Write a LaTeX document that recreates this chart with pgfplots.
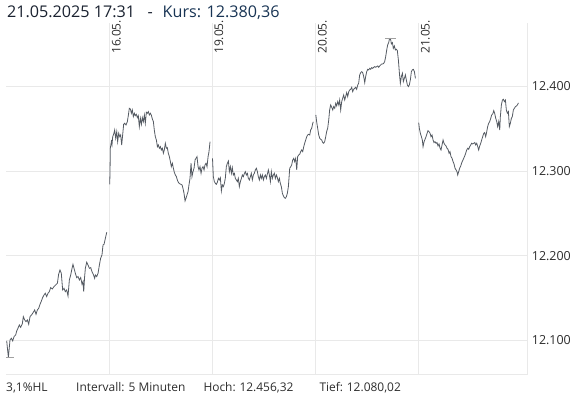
\documentclass[border=0pt]{standalone}
\usepackage{pgfplots}
\pgfplotsset{compat=1.18}
\usepackage{fontspec}
\setmainfont{Open Sans}
\definecolor{gridc}{RGB}{233,233,233}
\definecolor{linec}{RGB}{84,90,98}
\definecolor{markc}{RGB}{160,160,160}
\definecolor{txt}{RGB}{45,45,45}
\definecolor{ttl}{RGB}{26,34,48}
\definecolor{kurs}{RGB}{24,52,84}
\begin{document}
\begin{tikzpicture}
\useasboundingbox (0,0) rectangle (586bp,394bp);
\begin{axis}[
  at={(6.3bp,20bp)}, anchor=south west,
  scale only axis, width=521.4bp, height=351bp,
  xmin=0, xmax=5.052, ymin=12060.3, ymax=12474.7,
  axis x line*=bottom, axis y line*=right,
  axis line style={draw=gridc, line width=0.8bp, -},
  xtick={1.002,1.996,2.998,3.996}, xticklabels={},
  ytick={12100,12200,12300,12400},
  yticklabels={12.100,12.200,12.300,12.400},
  scaled y ticks=false, scaled x ticks=false,
  major tick length=0pt,
  grid=major, grid style={draw=gridc, line width=0.8bp},
  yticklabel style={font=\fontsize{12.5}{14}\selectfont, text=txt, inner sep=0pt, anchor=west, xshift=4bp},
  clip=false,
]
% 15.05.
\addplot[linec, line width=0.8bp] coordinates {
(0.004,12099.3) (0.020,12080.0) (0.036,12100.5) (0.049,12102.5) (0.062,12099.3) (0.075,12104.4) (0.091,12106.4) (0.101,12111.1) (0.113,12114.3) (0.126,12118.2) (0.139,12115.4) (0.155,12119.4) (0.165,12128.0) (0.178,12124.1) (0.191,12122.1) (0.204,12124.1) (0.217,12119.0) (0.230,12128.0) (0.249,12130.8) (0.262,12133.2) (0.275,12135.9) (0.288,12130.8) (0.301,12135.9) (0.314,12137.9) (0.327,12142.6) (0.340,12146.5) (0.352,12150.5) (0.365,12153.6) (0.378,12155.6) (0.391,12151.7) (0.404,12155.6) (0.417,12157.5) (0.430,12162.3) (0.446,12160.7) (0.462,12163.5) (0.478,12165.4) (0.495,12167.4) (0.507,12178.0) (0.520,12183.1) (0.533,12179.2) (0.546,12159.5) (0.559,12161.5) (0.572,12157.5) (0.585,12159.5) (0.598,12152.4) (0.611,12171.3) (0.624,12177.2) (0.637,12185.1) (0.646,12189.8) (0.656,12185.1) (0.669,12179.2) (0.682,12174.1) (0.695,12175.3) (0.708,12171.3) (0.721,12174.1) (0.734,12166.2) (0.743,12169.4) (0.750,12157.5) (0.759,12175.3) (0.766,12185.1) (0.779,12192.2) (0.792,12189.0) (0.805,12185.1) (0.818,12185.9) (0.830,12181.2) (0.843,12178.0) (0.856,12173.3) (0.863,12177.2) (0.876,12175.3) (0.889,12179.2) (0.902,12189.0) (0.914,12196.9) (0.927,12200.8) (0.937,12212.6) (0.947,12213.4) (0.960,12220.5) (0.973,12227.6)
};
% 16.05.
\addplot[linec, line width=0.8bp] coordinates {
(1.002,12284.3) (1.005,12299.2) (1.008,12326.8) (1.018,12334.6) (1.024,12330.7) (1.031,12340.5) (1.040,12343.3) (1.050,12348.4) (1.060,12338.6) (1.070,12346.4) (1.079,12334.6) (1.089,12344.5) (1.099,12340.5) (1.108,12342.5) (1.118,12330.7) (1.128,12343.3) (1.137,12355.1) (1.147,12356.3) (1.160,12354.3) (1.173,12358.3) (1.183,12366.1) (1.192,12374.0) (1.202,12373.2) (1.212,12368.1) (1.221,12372.0) (1.231,12364.2) (1.241,12368.1) (1.250,12365.3) (1.260,12366.9) (1.270,12363.0) (1.279,12365.3) (1.289,12352.4) (1.299,12362.2) (1.309,12355.1) (1.318,12363.0) (1.328,12358.3) (1.338,12366.1) (1.347,12356.3) (1.357,12369.3) (1.367,12368.1) (1.376,12370.1) (1.386,12366.1) (1.396,12368.1) (1.405,12366.1) (1.415,12361.4) (1.425,12358.3) (1.434,12348.4) (1.444,12340.5) (1.454,12336.6) (1.464,12328.7) (1.473,12330.7) (1.483,12326.8) (1.493,12328.7) (1.502,12324.8) (1.512,12326.8) (1.522,12320.9) (1.531,12324.8) (1.541,12332.7) (1.551,12326.8) (1.560,12327.6) (1.570,12320.9) (1.580,12316.9) (1.590,12311.0) (1.599,12305.1) (1.609,12309.1) (1.619,12303.2) (1.628,12298.4) (1.638,12295.3) (1.648,12293.3) (1.657,12289.4) (1.667,12286.6) (1.677,12285.1) (1.690,12284.3) (1.703,12283.5) (1.712,12279.5) (1.722,12273.6) (1.732,12264.6) (1.741,12267.7) (1.751,12271.7) (1.761,12275.6) (1.770,12283.5) (1.780,12291.4) (1.790,12309.1) (1.799,12293.3) (1.809,12299.2) (1.819,12303.2) (1.829,12313.0) (1.838,12315.0) (1.848,12316.9) (1.858,12305.1) (1.867,12301.2) (1.877,12305.1) (1.887,12297.3) (1.896,12303.2) (1.906,12305.1) (1.916,12301.2) (1.925,12307.1) (1.935,12309.1) (1.945,12305.1) (1.955,12316.9) (1.964,12322.8) (1.974,12334.6)
};
% 19.05.
\addplot[linec, line width=0.8bp] coordinates {
(1.998,12314.9) (2.006,12293.3) (2.016,12287.4) (2.026,12285.4) (2.035,12284.3) (2.045,12286.6) (2.055,12291.3) (2.064,12289.4) (2.074,12292.1) (2.084,12276.4) (2.093,12283.5) (2.103,12281.5) (2.113,12285.4) (2.122,12291.3) (2.132,12305.1) (2.142,12309.1) (2.152,12311.8) (2.161,12299.2) (2.171,12305.1) (2.181,12297.2) (2.190,12303.9) (2.200,12295.3) (2.210,12297.2) (2.219,12291.3) (2.229,12289.4) (2.239,12287.4) (2.248,12291.3) (2.258,12281.5) (2.268,12287.4) (2.278,12291.3) (2.287,12295.3) (2.297,12293.3) (2.307,12297.2) (2.316,12299.2) (2.326,12295.3) (2.336,12297.2) (2.345,12291.3) (2.355,12289.4) (2.365,12293.3) (2.374,12297.2) (2.384,12289.4) (2.394,12295.3) (2.403,12297.2) (2.413,12301.2) (2.423,12303.2) (2.433,12299.2) (2.442,12293.3) (2.452,12289.4) (2.462,12295.3) (2.471,12291.3) (2.481,12295.3) (2.491,12289.4) (2.500,12293.3) (2.510,12295.3) (2.520,12291.3) (2.529,12296.1) (2.539,12301.2) (2.549,12295.3) (2.559,12287.4) (2.568,12299.2) (2.578,12291.3) (2.588,12295.3) (2.597,12297.2) (2.607,12291.3) (2.617,12295.3) (2.626,12292.1) (2.636,12287.4) (2.646,12291.3) (2.655,12285.4) (2.665,12281.5) (2.675,12273.6) (2.684,12270.9) (2.694,12268.5) (2.704,12267.7) (2.714,12269.7) (2.723,12273.6) (2.733,12281.5) (2.739,12291.3) (2.746,12303.2) (2.756,12305.1) (2.765,12307.1) (2.775,12313.0) (2.785,12314.9) (2.794,12311.0) (2.804,12314.9) (2.814,12301.2) (2.823,12316.9) (2.833,12318.9) (2.843,12319.7) (2.852,12322.8) (2.862,12324.8) (2.872,12322.8) (2.882,12328.7) (2.891,12332.7) (2.901,12336.6) (2.911,12340.5) (2.920,12342.5) (2.930,12343.3) (2.940,12342.5) (2.949,12348.4) (2.959,12350.4) (2.969,12356.3) (2.975,12358.0)
};
% 20.05.
\addplot[linec, line width=0.8bp] coordinates {
(2.999,12366.1) (3.007,12358.2) (3.017,12350.4) (3.027,12342.5) (3.037,12338.6) (3.046,12337.4) (3.056,12336.6) (3.066,12333.5) (3.075,12332.7) (3.085,12334.6) (3.095,12340.5) (3.104,12346.5) (3.114,12350.4) (3.124,12360.2) (3.133,12372.0) (3.143,12378.0) (3.153,12375.2) (3.163,12372.0) (3.172,12376.0) (3.182,12374.0) (3.192,12379.9) (3.201,12376.8) (3.211,12381.9) (3.221,12378.0) (3.230,12383.8) (3.240,12372.0) (3.250,12381.9) (3.259,12385.8) (3.269,12389.7) (3.279,12383.8) (3.288,12387.8) (3.298,12392.5) (3.308,12387.8) (3.318,12393.7) (3.327,12395.6) (3.337,12396.4) (3.347,12398.8) (3.356,12393.7) (3.366,12396.4) (3.376,12397.6) (3.385,12398.8) (3.395,12396.4) (3.405,12401.5) (3.414,12403.5) (3.424,12413.4) (3.434,12416.1) (3.444,12417.3) (3.453,12416.1) (3.463,12411.4) (3.473,12404.3) (3.482,12411.4) (3.492,12417.3) (3.502,12420.0) (3.511,12419.3) (3.521,12421.2) (3.531,12420.0) (3.540,12422.0) (3.550,12421.2) (3.560,12422.4) (3.570,12423.2) (3.579,12422.4) (3.589,12423.2) (3.599,12424.0) (3.608,12422.4) (3.618,12424.0) (3.628,12425.2) (3.637,12426.3) (3.647,12426.3) (3.657,12427.1) (3.666,12429.1) (3.676,12435.0) (3.686,12442.9) (3.695,12448.8) (3.705,12451.5) (3.712,12455.5) (3.718,12456.32) (3.725,12454.7) (3.731,12450.0) (3.741,12451.5) (3.750,12444.8) (3.760,12447.6) (3.770,12442.9) (3.779,12443.7) (3.789,12442.1) (3.799,12431.1) (3.809,12415.3) (3.818,12403.5) (3.828,12411.4) (3.838,12415.3) (3.847,12405.5) (3.857,12409.4) (3.867,12413.4) (3.876,12407.5) (3.886,12401.5) (3.896,12399.6) (3.905,12401.5) (3.915,12407.5) (3.925,12417.3) (3.934,12419.3) (3.944,12420.0) (3.954,12417.3) (3.964,12409.4)
};
% 21.05.
\addplot[linec, line width=0.8bp] coordinates {
(3.996,12357.1) (4.002,12350.4) (4.012,12344.5) (4.022,12340.5) (4.031,12336.6) (4.038,12328.7) (4.048,12334.6) (4.057,12337.4) (4.067,12340.5) (4.077,12344.5) (4.086,12347.6) (4.096,12346.4) (4.106,12344.5) (4.115,12340.5) (4.125,12342.5) (4.135,12336.6) (4.144,12333.5) (4.154,12334.6) (4.164,12332.7) (4.173,12333.5) (4.183,12329.5) (4.193,12331.9) (4.203,12326.8) (4.212,12324.8) (4.222,12330.7) (4.232,12336.6) (4.241,12332.7) (4.251,12330.7) (4.261,12329.5) (4.270,12326.8) (4.280,12325.6) (4.290,12320.9) (4.299,12322.8) (4.309,12316.9) (4.319,12314.9) (4.329,12311.0) (4.338,12308.3) (4.348,12303.2) (4.358,12301.2) (4.367,12299.2) (4.374,12295.3) (4.383,12299.2) (4.393,12303.2) (4.403,12305.9) (4.413,12309.8) (4.422,12312.2) (4.432,12315.0) (4.442,12317.7) (4.451,12320.9) (4.461,12324.8) (4.471,12326.8) (4.480,12325.6) (4.490,12328.7) (4.500,12330.7) (4.509,12332.7) (4.519,12331.9) (4.529,12332.7) (4.539,12333.5) (4.548,12330.7) (4.558,12332.7) (4.568,12328.7) (4.577,12324.8) (4.587,12329.5) (4.597,12332.7) (4.606,12336.6) (4.616,12340.5) (4.626,12344.5) (4.635,12345.3) (4.645,12340.5) (4.655,12346.4) (4.664,12352.4) (4.674,12356.3) (4.684,12358.3) (4.694,12362.2) (4.703,12366.1) (4.713,12367.3) (4.723,12371.2) (4.732,12368.1) (4.742,12362.2) (4.752,12358.3) (4.761,12352.4) (4.771,12358.3) (4.781,12348.4) (4.787,12364.2) (4.797,12377.9) (4.807,12383.8) (4.816,12384.6) (4.826,12381.9) (4.836,12383.8) (4.845,12372.0) (4.855,12368.1) (4.865,12370.1) (4.874,12352.4) (4.884,12356.3) (4.894,12362.2) (4.903,12364.2) (4.913,12372.0) (4.923,12374.0) (4.933,12375.9) (4.942,12376.7) (4.952,12377.9) (4.962,12380.36)
};
% high / low markers
\addplot[markc, line width=0.8bp] coordinates {(0.000,12080.02) (0.075,12080.02)};
\addplot[markc, line width=0.8bp] coordinates {(3.667,12456.32) (3.773,12456.32)};
% day labels
\foreach \d/\l in {1.002/16.05.,1.996/19.05.,2.998/20.05.,3.996/21.05.} {
  \edef\tmp{\noexpand\node[rotate=90, anchor=north east, inner sep=0pt, text=txt, font=\noexpand\fontsize{12}{14}\noexpand\selectfont, xshift=3.2bp, yshift=-2bp] at (axis cs:\d,12474.7) {\l};}
  \tmp
}
\end{axis}
% title
\node[anchor=base west, inner sep=0pt, text=ttl, font=\fontsize{16.2}{19}\selectfont] at (7bp,376.3bp) {21.05.2025 17:31};
\node[anchor=base west, inner sep=0pt, text=ttl, font=\fontsize{16.2}{19}\selectfont] at (147.5bp,376.3bp) {-};
\node[anchor=base west, inner sep=0pt, text=kurs, font=\fontsize{16.2}{19}\selectfont] at (162.5bp,376.3bp) {Kurs: 12.380,36};
% footer
\begin{scope}[every node/.style={anchor=base west, inner sep=0pt, text=txt, font=\fontsize{12}{14}\selectfont}]
\node at (6bp,2.5bp) {3,1\%HL};
\node at (76bp,2.5bp) {Intervall: 5 Minuten};
\node at (203.3bp,2.5bp) {Hoch:};
\node at (239.3bp,2.5bp) {12.456,32};
\node at (319.3bp,2.5bp) {Tief:};
\node at (346.7bp,2.5bp) {12.080,02};
\end{scope}
\end{tikzpicture}
\end{document}
